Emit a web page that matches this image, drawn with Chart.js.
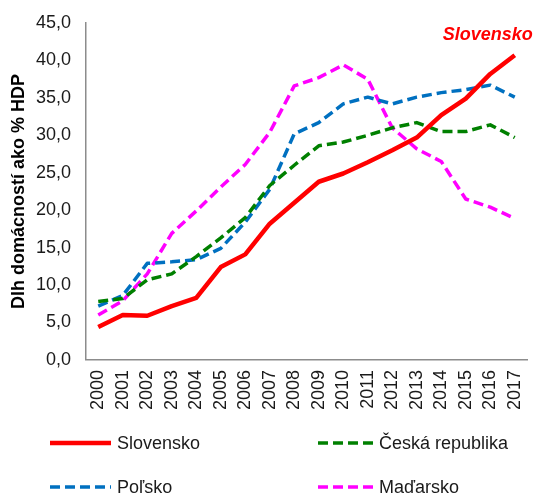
<!DOCTYPE html>
<html>
<head>
<meta charset="utf-8">
<script src="https://cdn.jsdelivr.net/npm/chart.js@4/dist/chart.umd.min.js"></script>
<style>
  html, body { margin: 0; padding: 0; background: #fff; }
  #wrap { position: relative; width: 538px; height: 495px; }
  #c { position: absolute; left: 0; top: 0; }
  .leg { position: absolute; font-family: "Liberation Sans", Arial, sans-serif; font-size: 18px; color: #1a1a1a; display: flex; align-items: center; white-space: nowrap; }
  .leg svg { margin-right: 6px; }
</style>
</head>
<body>
<div id="wrap">
  <canvas id="c" width="538" height="495"></canvas>
  <div id="legend"></div>
</div>
<script>
const years = ['2000','2001','2002','2003','2004','2005','2006','2007','2008','2009','2010','2011','2012','2013','2014','2015','2016','2017'];
const slovensko = [4.4, 6.0, 5.9, 7.2, 8.3, 12.4, 14.1, 18.2, 21.0, 23.8, 24.9, 26.4, 28.0, 29.7, 32.7, 34.9, 38.2, 40.7];
const ceskaRepublika = [7.8, 8.2, 10.7, 11.5, 13.8, 16.3, 19.0, 23.3, 26.0, 28.6, 29.1, 30.0, 31.0, 31.7, 30.5, 30.5, 31.4, 29.7];
const polsko = [7.2, 8.6, 12.9, 13.1, 13.4, 14.9, 18.4, 22.8, 30.2, 31.7, 34.2, 35.1, 34.2, 35.1, 35.7, 36.1, 36.7, 35.1];
const madarsko = [6.0, 7.9, 11.5, 16.9, 19.9, 23.1, 26.1, 30.4, 36.6, 37.7, 39.4, 37.5, 31.0, 28.2, 26.5, 21.5, 20.4, 18.9];
const seriesNames = ['Slovensko', 'Česká republika', 'Poľsko', 'Maďarsko'];
const yTitle = 'Dlh domácností ako % HDP';
const annotationText = 'Slovensko';

const colors = ['#FF0000', '#008000', '#0070C0', '#FF00FF'];
const dashes = [[], [10, 5], [10, 5], [10, 5]];
const widths = [4.5, 3.5, 3.5, 3.5];
const FONT = '"Liberation Sans", Arial, sans-serif';

const seriesData = [slovensko, ceskaRepublika, polsko, madarsko];
const datasets = seriesData.map((d, i) => ({
  label: seriesNames[i],
  data: d,
  borderColor: colors[i],
  backgroundColor: colors[i],
  borderWidth: widths[i],
  borderDash: dashes[i],
  borderCapStyle: 'butt',
  borderJoinStyle: 'round',
  pointRadius: 0,
  pointHoverRadius: 0,
  tension: 0,
  fill: false
}));

const annotate = {
  id: 'annotate',
  afterDatasetsDraw(chart) {
    const meta = chart.getDatasetMeta(0);
    const last = meta.data[meta.data.length - 1];
    const ctx = chart.ctx;
    ctx.save();
    ctx.font = 'italic bold 18px ' + FONT;
    ctx.fillStyle = '#FF0000';
    ctx.textAlign = 'right';
    ctx.textBaseline = 'middle';
    ctx.fillText(annotationText, last.x + 18, last.y - 20);
    ctx.restore();
  }
};

new Chart(document.getElementById('c'), {
  type: 'line',
  data: { labels: years, datasets: datasets },
  options: {
    responsive: false,
    animation: false,
    layout: { padding: { top: 23, right: 11, bottom: 75, left: 8 } },
    plugins: { legend: { display: false }, tooltip: { enabled: false } },
    scales: {
      x: {
        offset: true,
        grid: { display: false, drawTicks: false },
        border: { display: true, color: '#8c8c8c', width: 1.5 },
        ticks: { font: { family: FONT, size: 18 }, color: '#1a1a1a', minRotation: 90, maxRotation: 90, padding: 10, autoSkip: false },
        afterFit: (scale) => { scale.paddingLeft = 0; scale.paddingRight = 0; }
      },
      y: {
        min: 0, max: 45,
        grid: { display: false, drawTicks: false },
        border: { display: true, color: '#8c8c8c', width: 1.5 },
        ticks: {
          stepSize: 5,
          font: { family: FONT, size: 18 },
          color: '#1a1a1a',
          padding: 15,
          callback: v => v.toFixed(1).replace('.', ',')
        },
        title: { display: true, text: yTitle, font: { family: FONT, size: 18, weight: 'bold' }, color: '#000', padding: { top: 0, bottom: 6 } },
        afterFit: (scale) => { scale.width = 78; scale.paddingTop = 0; scale.paddingBottom = 0; }
      }
    }
  },
  plugins: [annotate]
});

// Legend (two columns)
const legendPos = [
  { left: 50, top: 443, w: 61 },
  { left: 318, top: 443, w: 55 },
  { left: 50, top: 487, w: 61 },
  { left: 318, top: 487, w: 55 }
];
const legend = document.getElementById('legend');
seriesNames.forEach((name, i) => {
  const p = legendPos[i];
  const el = document.createElement('div');
  el.className = 'leg';
  el.style.left = p.left + 'px';
  el.style.top = (p.top - 12) + 'px';
  el.style.height = '24px';
  const dash = dashes[i].length ? `stroke-dasharray="${dashes[i].join(' ')}"` : '';
  el.innerHTML = `<svg width="${p.w}" height="10"><line x1="0" y1="5" x2="${p.w}" y2="5" stroke="${colors[i]}" stroke-width="${widths[i]}" ${dash} stroke-linecap="${dashes[i].length ? 'butt' : 'round'}"/></svg><span>${name}</span>`;
  legend.appendChild(el);
});
</script>
</body>
</html>
